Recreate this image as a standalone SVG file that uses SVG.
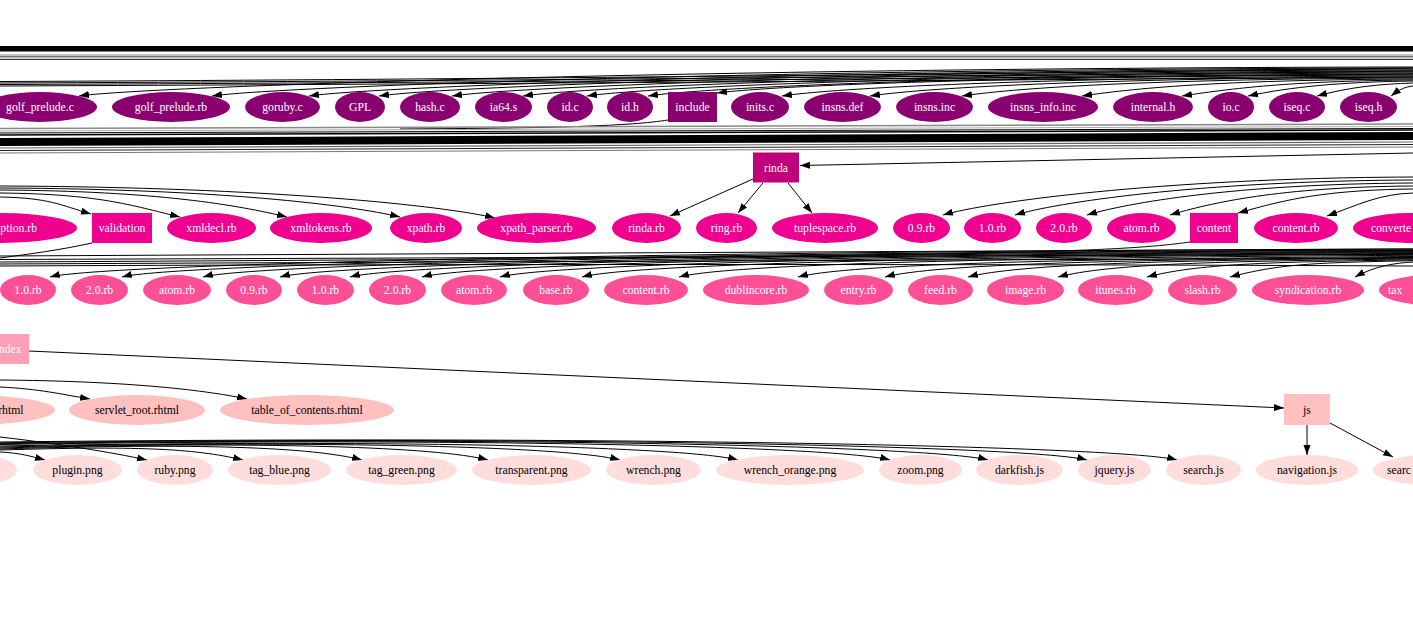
<svg xmlns="http://www.w3.org/2000/svg" width="1413" height="642" viewBox="0 0 1413 642">
<style>
text{font-family:"Liberation Serif","Times New Roman",serif;font-size:11.7px;text-anchor:middle}
.c1 ellipse,.c1 rect{fill:#8b0071}
.c2 ellipse,.c2 rect{fill:#f0008e}
.c2b rect{fill:#c0007a}
.c3 ellipse{fill:#fd4f96}
.c4a rect{fill:#ff9fb6}
.c4 ellipse,.c4 rect{fill:#ffc1c0}
.c5 ellipse{fill:#ffdddc}
.w text{fill:#fff}
.k text{fill:#000}
#edges path{fill:none;stroke:#000;stroke-width:1}
#edges .e{marker-end:url(#a)}
</style>
<defs>
<marker id="a" markerUnits="userSpaceOnUse" markerWidth="11" markerHeight="8" refX="10" refY="4" orient="auto"><path d="M0,0.5 L10,4 L0,7.5 z" fill="#000"/></marker>
</defs>
<rect width="1413" height="642" fill="#fff"/>
<g id="edges">
<rect x="0" y="46" width="1413" height="5.5" fill="#000"/>
<path d="M0,55 H1413" style="stroke:#888"/>
<path d="M0,56.8 H1413" style="stroke:#333"/>
<path d="M0,59.3 H1413" style="stroke:#111"/>
<path d="M0,81.5 C400,80 1000,74 1413,68"/>
<path d="M0,83 C400,81.5 1000,76 1413,71"/>
<path d="M0,84.5 C400,83 1000,78 1413,74"/>
<path d="M0,86 C400,84.5 1000,80 1413,77"/>
<path class="e" d="M1413,67 C679,68 139,87 79,96"/>
<path class="e" d="M1413,68 C752,69 272,87 212,96"/>
<path class="e" d="M1413,69 C806,70 369,87 309,96"/>
<path class="e" d="M1413,70 C844,71 439,87 379,96"/>
<path class="e" d="M1413,71 C884,72 512,87 452,96"/>
<path class="e" d="M1413,72 C923,73 583,87 523,96"/>
<path class="e" d="M1413,73 C959,74 647,87 587,96"/>
<path class="e" d="M1413,74 C992,75 708,87 648,96"/>
<path class="e" d="M1413,75 C1030,76 777,85 717,93"/>
<path class="e" d="M1413,76 C1066,77 842,87 782,96"/>
<path class="e" d="M1413,77 C1114,78 930,87 870,96"/>
<path class="e" d="M1413,78 C1165,79 1022,87 962,96"/>
<path class="e" d="M1413,79 C1231,80 1142,87 1082,96"/>
<path class="e" d="M1413,80 C1300,81 1240,87 1182,96"/>
<path class="e" d="M1413,81 C1340,82 1290,87 1248,96"/>
<path class="e" d="M1413,83 C1380,84 1350,87 1317,96"/>
<path class="e" d="M1413,86 C1405,87 1400,89 1391,96"/>
<path d="M668,120 C630,126 560,128 400,129"/>
<path d="M0,128.5 L1413,124" style="stroke:#888;stroke-width:1.5"/>
<path d="M0,131 L1413,126.5" style="stroke:#aaa"/>
<path d="M0,133 L1413,128.5"/>
<path d="M0,135 L1413,130" style="stroke-width:1.5"/>
<path d="M0,142 L1413,136" style="stroke-width:8"/>
<path d="M0,148 L1413,142" style="stroke:#666;stroke-width:1.2"/>
<path d="M0,150.5 L1413,144.5" style="stroke:#222"/>
<path d="M0,153 L1413,147" style="stroke:#777"/>
<path class="e" d="M1413,153 L800,165.5"/>
<path class="e" d="M753,179 L670,216"/>
<path class="e" d="M763,183 L738,213"/>
<path class="e" d="M788,183 L812,213"/>
<path class="e" d="M0,197 C50,198 60,205 91,214"/>
<path class="e" d="M0,193 C99,194 130,205 180,217"/>
<path class="e" d="M0,190 C158,191 237,205 287,217"/>
<path class="e" d="M0,188 C220,189 350,205 400,217"/>
<path class="e" d="M0,186 C272,187 445,206 495,218"/>
<path class="e" d="M1413,177 C1155,178 983,203 943,215"/>
<path class="e" d="M1413,180 C1194,181 1055,203 1015,215"/>
<path class="e" d="M1413,183 C1234,184 1127,203 1087,215"/>
<path class="e" d="M1413,186 C1279,187 1210,203 1170,215"/>
<path class="e" d="M1413,189 C1317,190 1278,202 1238,213"/>
<path class="e" d="M1413,193 C1380,194 1360,204 1327,216"/>
<path d="M92,243 C60,250 30,254 0,258"/>
<path d="M1190,242 C1120,252 1000,257 0,262"/>
<path d="M0,256 C400,254 1000,251 1413,249"/>
<path d="M0,259.5 C400,258 1000,256 1413,254"/>
<path d="M0,264 C400,262 1000,260 1413,258"/>
<path d="M0,266 C400,264 1000,264 1413,266"/>
<path class="e" d="M1413,249 C663,251 100,264 50,277"/>
<path class="e" d="M1413,250 C703,252 172,264 122,277"/>
<path class="e" d="M1413,250.5 C748,252.5 253,264 203,277"/>
<path class="e" d="M1413,251.3 C790,253.3 330,264 280,277"/>
<path class="e" d="M1413,252 C828,254 400,264 350,277"/>
<path class="e" d="M1413,252.7 C868,254.7 472,264 422,277"/>
<path class="e" d="M1413,253.5 C911,255.5 550,264 500,277"/>
<path class="e" d="M1413,254.3 C956,256.3 632,264 582,277"/>
<path class="e" d="M1413,255.3 C1009,257.3 729,264 679,277"/>
<path class="e" d="M1413,256.5 C1075,258.5 848,264 798,277"/>
<path class="e" d="M1413,257.4 C1123,259.4 935,264 885,277"/>
<path class="e" d="M1413,258.1 C1168,260.1 1018,264 968,277"/>
<path class="e" d="M1413,259 C1218,261 1108,264 1058,277"/>
<path class="e" d="M1413,259.9 C1267,261.9 1197,264 1147,277"/>
<path class="e" d="M1413,260.7 C1312,262.7 1280,264 1230,277"/>
<path class="e" d="M1413,262 C1395,263 1375,266 1355,277"/>
<path class="e" d="M29,351 L1284,408"/>
<path class="e" d="M0,387 C40,389 60,394 90,399"/>
<path class="e" d="M0,380 C120,381 200,389 247,399"/>
<path class="e" d="M0,452 C20,453 30,456 45,460"/>
<path class="e" d="M0,437 C60,444 110,452 147,460"/>
<path class="e" d="M0,450 C134,446 193,448 243,460"/>
<path class="e" d="M0,449 C199,443 312,447 362,460"/>
<path class="e" d="M0,448 C268,441 438,447 488,460"/>
<path class="e" d="M0,447 C341,440 570,447 620,460"/>
<path class="e" d="M0,446 C406,439 688,447 738,460"/>
<path class="e" d="M0,444.5 C490,437 840,447 890,460"/>
<path class="e" d="M0,443.7 C543,436 938,447 988,460"/>
<path class="e" d="M0,442.8 C598,435.5 1037,447 1087,460"/>
<path class="e" d="M0,442 C647,435 1127,447 1177,460"/>
<path class="e" d="M1307,425 L1307,455"/>
<path class="e" d="M1330,423 L1393,457"/>
</g>
<g class="c1 w">
<g id="n_golf_prelude_c"><ellipse cx="40" cy="107" rx="57" ry="15"/><text x="40" y="111">golf_prelude.c</text></g>
<g id="n_golf_prelude_rb"><ellipse cx="171" cy="107" rx="59" ry="15"/><text x="171" y="111">golf_prelude.rb</text></g>
<g id="n_goruby_c"><ellipse cx="282.5" cy="107" rx="37.5" ry="15"/><text x="282.5" y="111">goruby.c</text></g>
<g id="n_GPL"><ellipse cx="360" cy="107" rx="25" ry="15"/><text x="360" y="111">GPL</text></g>
<g id="n_hash_c"><ellipse cx="430" cy="107" rx="30" ry="15"/><text x="430" y="111">hash.c</text></g>
<g id="n_ia64_s"><ellipse cx="503.5" cy="107" rx="28.5" ry="15"/><text x="503.5" y="111">ia64.s</text></g>
<g id="n_id_c"><ellipse cx="570" cy="107" rx="23" ry="15"/><text x="570" y="111">id.c</text></g>
<g id="n_id_h"><ellipse cx="630" cy="107" rx="23" ry="15"/><text x="630" y="111">id.h</text></g>
<g id="n_include"><rect x="668" y="92" width="49" height="30"/><text x="692.5" y="111">include</text></g>
<g id="n_inits_c"><ellipse cx="760" cy="107" rx="29" ry="15"/><text x="760" y="111">inits.c</text></g>
<g id="n_insns_def"><ellipse cx="842.5" cy="107" rx="38.5" ry="15"/><text x="842.5" y="111">insns.def</text></g>
<g id="n_insns_inc"><ellipse cx="934.5" cy="107" rx="38.5" ry="15"/><text x="934.5" y="111">insns.inc</text></g>
<g id="n_insns_info_inc"><ellipse cx="1043" cy="107" rx="55" ry="15"/><text x="1043" y="111">insns_info.inc</text></g>
<g id="n_internal_h"><ellipse cx="1153" cy="107" rx="40" ry="15"/><text x="1153" y="111">internal.h</text></g>
<g id="n_io_c"><ellipse cx="1231" cy="107" rx="23" ry="15"/><text x="1231" y="111">io.c</text></g>
<g id="n_iseq_c"><ellipse cx="1297" cy="107" rx="28" ry="15"/><text x="1297" y="111">iseq.c</text></g>
<g id="n_iseq_h"><ellipse cx="1368.5" cy="107" rx="28.5" ry="15"/><text x="1368.5" y="111">iseq.h</text></g>
<g id="n_r1_edge"><ellipse cx="1446" cy="107" rx="33" ry="15"/></g>
</g>
<g id="n_rinda" class="c2b w"><rect x="753" y="152.5" width="46" height="30"/><text x="776" y="171.5">rinda</text></g>
<g class="c2 w">
<g id="n_ption_rb"><ellipse cx="2" cy="228" rx="75" ry="15"/><text x="37" y="232" style="text-anchor:end">ption.rb</text></g>
<g id="n_validation"><rect x="92" y="213" width="60" height="30"/><text x="122" y="232">validation</text></g>
<g id="n_xmldecl_rb"><ellipse cx="211.5" cy="228" rx="44.5" ry="15"/><text x="211.5" y="232">xmldecl.rb</text></g>
<g id="n_xmltokens_rb"><ellipse cx="321" cy="228" rx="51" ry="15"/><text x="321" y="232">xmltokens.rb</text></g>
<g id="n_xpath_rb"><ellipse cx="426" cy="228" rx="36" ry="15"/><text x="426" y="232">xpath.rb</text></g>
<g id="n_xpath_parser_rb"><ellipse cx="536.5" cy="228" rx="59.5" ry="15"/><text x="536.5" y="232">xpath_parser.rb</text></g>
<g id="n_rinda_rb"><ellipse cx="646.5" cy="228" rx="34.5" ry="15"/><text x="646.5" y="232">rinda.rb</text></g>
<g id="n_ring_rb"><ellipse cx="726.5" cy="228" rx="30.5" ry="15"/><text x="726.5" y="232">ring.rb</text></g>
<g id="n_tuplespace_rb"><ellipse cx="825" cy="228" rx="53" ry="15"/><text x="825" y="232">tuplespace.rb</text></g>
<g id="n_r2_09"><ellipse cx="921.5" cy="228" rx="28.5" ry="15"/><text x="921.5" y="232">0.9.rb</text></g>
<g id="n_r2_10"><ellipse cx="992.5" cy="228" rx="28.5" ry="15"/><text x="992.5" y="232">1.0.rb</text></g>
<g id="n_r2_20"><ellipse cx="1064" cy="228" rx="28" ry="15"/><text x="1064" y="232">2.0.rb</text></g>
<g id="n_r2_atom"><ellipse cx="1141.5" cy="228" rx="34.5" ry="15"/><text x="1141.5" y="232">atom.rb</text></g>
<g id="n_content"><rect x="1190" y="213" width="48" height="30"/><text x="1214" y="232">content</text></g>
<g id="n_r2_content_rb"><ellipse cx="1296" cy="228" rx="42" ry="15"/><text x="1296" y="232">content.rb</text></g>
<g id="n_converte"><ellipse cx="1408" cy="228" rx="55" ry="15"/><text x="1371" y="232" style="text-anchor:start">converte</text></g>
</g>
<g class="c3 w">
<g id="n_r3_10a"><ellipse cx="28" cy="290" rx="28" ry="15"/><text x="28" y="294">1.0.rb</text></g>
<g id="n_r3_20a"><ellipse cx="99.5" cy="290" rx="28.5" ry="15"/><text x="99.5" y="294">2.0.rb</text></g>
<g id="n_r3_atoma"><ellipse cx="177" cy="290" rx="34" ry="15"/><text x="177" y="294">atom.rb</text></g>
<g id="n_r3_09"><ellipse cx="254" cy="290" rx="28" ry="15"/><text x="254" y="294">0.9.rb</text></g>
<g id="n_r3_10b"><ellipse cx="325.5" cy="290" rx="28.5" ry="15"/><text x="325.5" y="294">1.0.rb</text></g>
<g id="n_r3_20b"><ellipse cx="397.5" cy="290" rx="28.5" ry="15"/><text x="397.5" y="294">2.0.rb</text></g>
<g id="n_r3_atomb"><ellipse cx="474" cy="290" rx="33" ry="15"/><text x="474" y="294">atom.rb</text></g>
<g id="n_base_rb"><ellipse cx="556" cy="290" rx="33" ry="15"/><text x="556" y="294">base.rb</text></g>
<g id="n_r3_content_rb"><ellipse cx="646" cy="290" rx="42" ry="15"/><text x="646" y="294">content.rb</text></g>
<g id="n_dublincore_rb"><ellipse cx="756" cy="290" rx="53" ry="15"/><text x="756" y="294">dublincore.rb</text></g>
<g id="n_entry_rb"><ellipse cx="858.5" cy="290" rx="34.5" ry="15"/><text x="858.5" y="294">entry.rb</text></g>
<g id="n_feed_rb"><ellipse cx="940.5" cy="290" rx="32.5" ry="15"/><text x="940.5" y="294">feed.rb</text></g>
<g id="n_image_rb"><ellipse cx="1025.5" cy="290" rx="38.5" ry="15"/><text x="1025.5" y="294">image.rb</text></g>
<g id="n_itunes_rb"><ellipse cx="1115.5" cy="290" rx="37.5" ry="15"/><text x="1115.5" y="294">itunes.rb</text></g>
<g id="n_slash_rb"><ellipse cx="1202.5" cy="290" rx="34.5" ry="15"/><text x="1202.5" y="294">slash.rb</text></g>
<g id="n_syndication_rb"><ellipse cx="1308" cy="290" rx="56" ry="15"/><text x="1308" y="294">syndication.rb</text></g>
<g id="n_tax"><ellipse cx="1430" cy="290" rx="51" ry="15"/><text x="1388" y="294" style="text-anchor:start">tax</text></g>
</g>
<g id="n_index" class="c4a w"><rect x="-20" y="334" width="49" height="30"/><text x="21.5" y="353" style="text-anchor:end">ndex</text></g>
<g class="c4 k">
<g id="n_rhtml"><ellipse cx="-30" cy="410" rx="85" ry="15"/><text x="23.5" y="414" style="text-anchor:end">rhtml</text></g>
<g id="n_servlet_root"><ellipse cx="137" cy="410" rx="68" ry="15"/><text x="137" y="414">servlet_root.rhtml</text></g>
<g id="n_table_of_contents"><ellipse cx="307" cy="410" rx="87" ry="15"/><text x="307" y="414">table_of_contents.rhtml</text></g>
<g id="n_js"><rect x="1284" y="394" width="46" height="31"/><text x="1307" y="414">js</text></g>
</g>
<g class="c5 k">
<g id="n_r5_left"><ellipse cx="-25" cy="470" rx="42" ry="15"/></g>
<g id="n_plugin"><ellipse cx="77.5" cy="470" rx="44.5" ry="15"/><text x="77.5" y="474">plugin.png</text></g>
<g id="n_ruby"><ellipse cx="175" cy="470" rx="38" ry="15"/><text x="175" y="474">ruby.png</text></g>
<g id="n_tag_blue"><ellipse cx="279.5" cy="470" rx="51.5" ry="15"/><text x="279.5" y="474">tag_blue.png</text></g>
<g id="n_tag_green"><ellipse cx="401.5" cy="470" rx="55.5" ry="15"/><text x="401.5" y="474">tag_green.png</text></g>
<g id="n_transparent"><ellipse cx="531.5" cy="470" rx="59.5" ry="15"/><text x="531.5" y="474">transparent.png</text></g>
<g id="n_wrench"><ellipse cx="653.5" cy="470" rx="47.5" ry="15"/><text x="653.5" y="474">wrench.png</text></g>
<g id="n_wrench_orange"><ellipse cx="790" cy="470" rx="74" ry="15"/><text x="790" y="474">wrench_orange.png</text></g>
<g id="n_zoom"><ellipse cx="920.5" cy="470" rx="41.5" ry="15"/><text x="920.5" y="474">zoom.png</text></g>
<g id="n_darkfish"><ellipse cx="1019.5" cy="470" rx="43.5" ry="15"/><text x="1019.5" y="474">darkfish.js</text></g>
<g id="n_jquery"><ellipse cx="1114.5" cy="470" rx="36.5" ry="15"/><text x="1114.5" y="474">jquery.js</text></g>
<g id="n_search"><ellipse cx="1203.5" cy="470" rx="37.5" ry="15"/><text x="1203.5" y="474">search.js</text></g>
<g id="n_navigation"><ellipse cx="1307" cy="470" rx="51" ry="15"/><text x="1307" y="474">navigation.js</text></g>
<g id="n_searc"><ellipse cx="1430" cy="470" rx="57" ry="15"/><text x="1387" y="474" style="text-anchor:start">searc</text></g>
</g>
</svg>
